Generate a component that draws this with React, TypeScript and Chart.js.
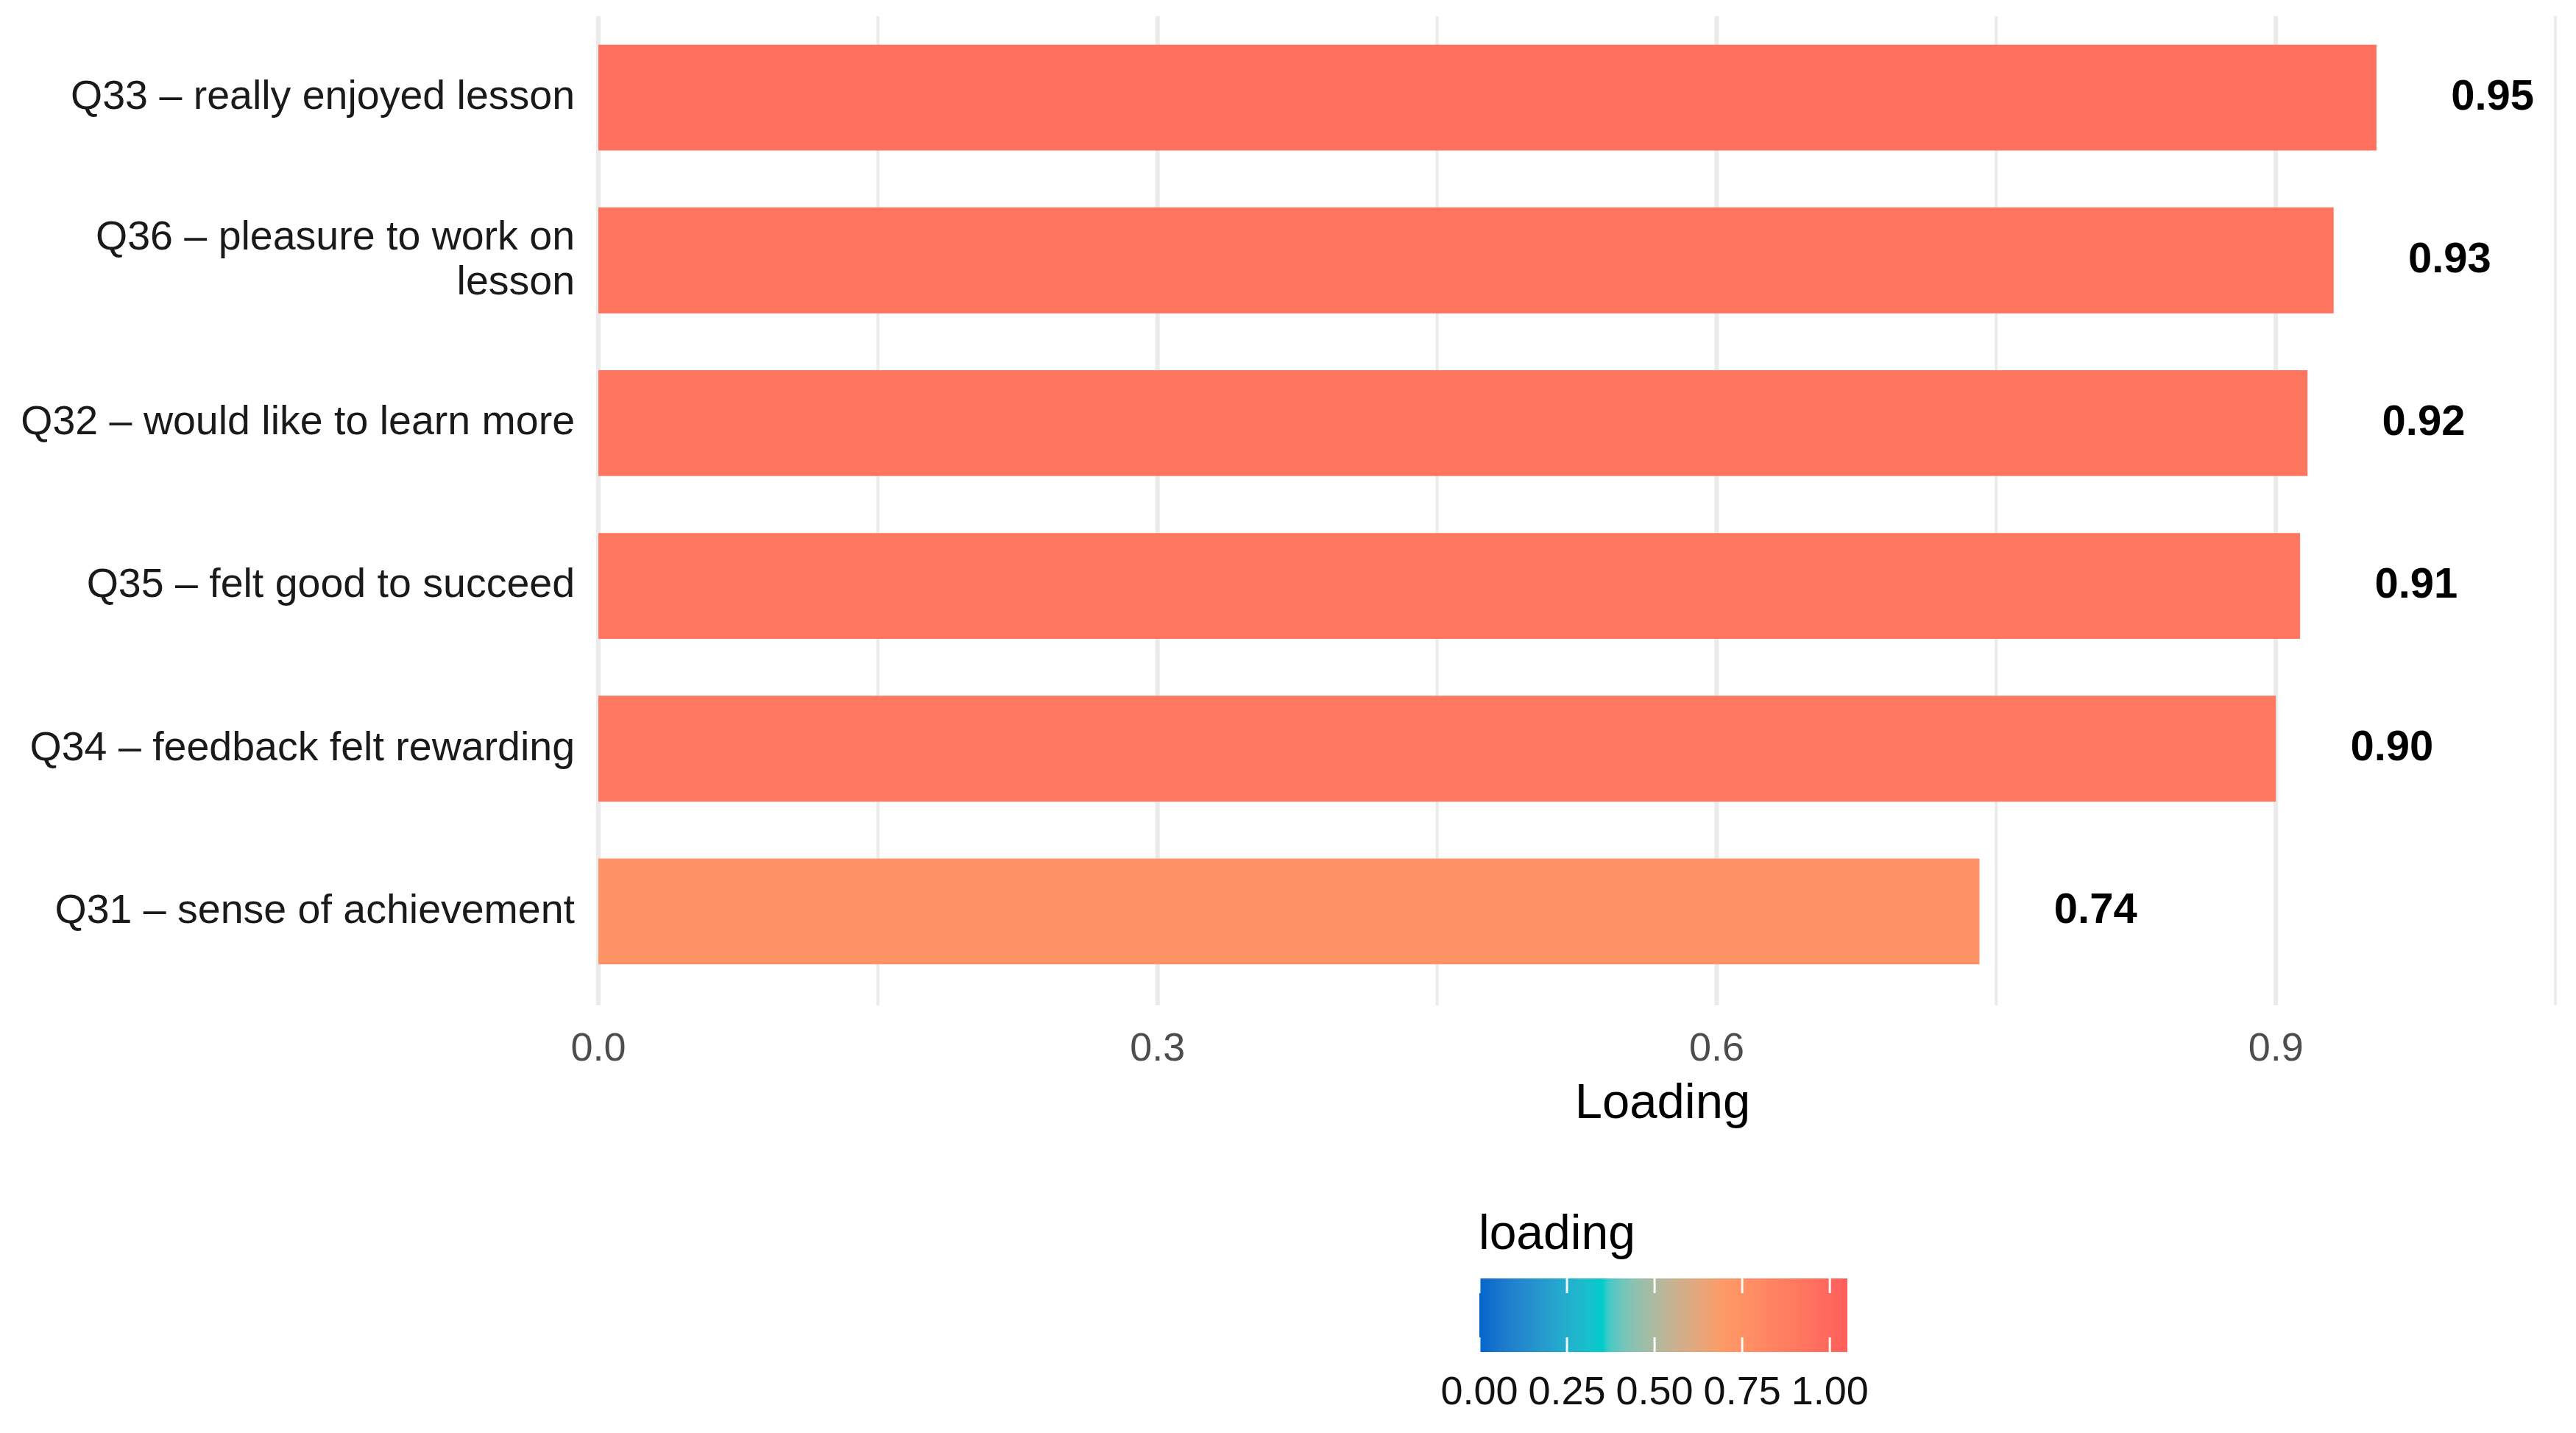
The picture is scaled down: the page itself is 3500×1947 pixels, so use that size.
import React, { useEffect, useRef } from "react";
import { Chart, registerables } from "chart.js";

Chart.register(...registerables);

// ---------- data ----------
const categories: (string | string[])[] = [
  "Q33 – really enjoyed lesson",
  ["Q36 – pleasure to work on", "lesson"],
  "Q32 – would like to learn more",
  "Q35 – felt good to succeed",
  "Q34 – feedback felt rewarding",
  "Q31 – sense of achievement",
];
const loadings = [0.954, 0.931, 0.917, 0.913, 0.9, 0.741];
const xTicks = [0, 0.3, 0.6, 0.9];
const xMinorTicks = [0.15, 0.45, 0.75, 1.05];
const legendTicks = [0, 0.25, 0.5, 0.75, 1.0];
const gradientColors = ["#0066CC", "#00CCCC", "#FF9966", "#FF5E5B"];
const gradientLimits = [0, 1.05];

const FONT = "'Liberation Sans', Arial, Helvetica, sans-serif";

// ---------- colour helpers (Lab interpolation, like ggplot) ----------
function hexToRgb(h: string) {
  const n = parseInt(h.slice(1), 16);
  return [(n >> 16) & 255, (n >> 8) & 255, n & 255];
}
function srgbToLin(c: number) {
  c /= 255;
  return c <= 0.04045 ? c / 12.92 : Math.pow((c + 0.055) / 1.055, 2.4);
}
function linToSrgb(c: number) {
  const v = c <= 0.0031308 ? 12.92 * c : 1.055 * Math.pow(c, 1 / 2.4) - 0.055;
  return Math.max(0, Math.min(255, Math.round(v * 255)));
}
const WX = 0.95047, WY = 1.0, WZ = 1.08883;
function fLab(t: number) {
  return t > 216 / 24389 ? Math.cbrt(t) : (24389 / 27 * t + 16) / 116;
}
function fInv(t: number) {
  return t * t * t > 216 / 24389 ? t * t * t : (116 * t - 16) / (24389 / 27);
}
function rgbToLab(rgb: number[]) {
  const [r, g, b] = rgb.map(srgbToLin);
  const x = (0.4124 * r + 0.3576 * g + 0.1805 * b) / WX;
  const y = (0.2126 * r + 0.7152 * g + 0.0722 * b) / WY;
  const z = (0.0193 * r + 0.1192 * g + 0.9505 * b) / WZ;
  const fx = fLab(x), fy = fLab(y), fz = fLab(z);
  return [116 * fy - 16, 500 * (fx - fy), 200 * (fy - fz)];
}
function labToRgb(lab: number[]) {
  const fy = (lab[0] + 16) / 116;
  const fx = fy + lab[1] / 500;
  const fz = fy - lab[2] / 200;
  const x = fInv(fx) * WX, y = fInv(fy) * WY, z = fInv(fz) * WZ;
  const r = 3.2406 * x - 1.5372 * y - 0.4986 * z;
  const g = -0.9689 * x + 1.8758 * y + 0.0415 * z;
  const b = 0.0557 * x - 0.204 * y + 1.057 * z;
  return [linToSrgb(r), linToSrgb(g), linToSrgb(b)];
}
const gradientLab = gradientColors.map((c) => rgbToLab(hexToRgb(c)));

function colorFor(v: number) {
  const [lo, hi] = gradientLimits;
  let t = (v - lo) / (hi - lo);
  t = Math.max(0, Math.min(1, t));
  const seg = gradientLab.length - 1;
  const i = Math.min(seg - 1, Math.floor(t * seg));
  const f = t * seg - i;
  const a = gradientLab[i];
  const b = gradientLab[i + 1];
  const c = labToRgb(a.map((x, k) => x + (b[k] - x) * f));
  return `rgb(${c[0]},${c[1]},${c[2]})`;
}

const gridPlugin = {
  id: "customGrid",
  beforeDatasetsDraw(chart: any) {
    const { ctx, chartArea } = chart;
    const xs = chart.scales.x;
    ctx.save();
    ctx.strokeStyle = "#EBEBEB";
    const draw = (vals: number[], w: number) => {
      ctx.lineWidth = w;
      vals.forEach((v) => {
        const x = xs.getPixelForValue(v);
        ctx.beginPath();
        ctx.moveTo(x, chartArea.top);
        ctx.lineTo(x, chartArea.bottom + 17);
        ctx.stroke();
      });
    };
    draw(xMinorTicks, 4);
    draw(xTicks, 6);
    ctx.restore();
  },
};

const valueLabelPlugin = {
  id: "valueLabels",
  afterDatasetsDraw(chart: any) {
    const { ctx } = chart;
    const xs = chart.scales.x;
    const meta = chart.getDatasetMeta(0);
    ctx.save();
    ctx.font = `bold 58px ${FONT}`;
    ctx.fillStyle = "#000000";
    ctx.textAlign = "left";
    ctx.textBaseline = "middle";
    loadings.forEach((v, i) => {
      const el = meta.data[i];
      ctx.fillText(v.toFixed(2), xs.getPixelForValue(v + 0.04), el.y);
    });
    ctx.restore();
  },
};

const colorbarPlugin = {
  id: "colorbarLegend",
  afterDraw(chart: any) {
    const { ctx } = chart;
    const barLeft = 2010;
    const barRight = 2510;
    const barTop = 1737;
    const barBottom = 1837;
    const [lo, hi] = gradientLimits;
    const px = (v: number) => barLeft + ((v - lo) / (hi - lo)) * (barRight - barLeft);
    ctx.save();
    // title
    ctx.font = `66px ${FONT}`;
    ctx.fillStyle = "#000000";
    ctx.textAlign = "left";
    ctx.textBaseline = "alphabetic";
    ctx.fillText("loading", 2009, 1697);
    // gradient
    const g = ctx.createLinearGradient(barLeft, 0, barRight, 0);
    for (let k = 0; k <= 60; k++) {
      const v = lo + ((hi - lo) * k) / 60;
      g.addColorStop(k / 60, colorFor(v));
    }
    ctx.fillStyle = g;
    ctx.fillRect(barLeft, barTop, barRight - barLeft, barBottom - barTop);
    // ticks
    ctx.strokeStyle = "rgba(255,255,255,0.95)";
    ctx.lineWidth = 3;
    legendTicks.forEach((v) => {
      const x = px(v);
      ctx.beginPath();
      ctx.moveTo(x, barTop);
      ctx.lineTo(x, barTop + 20);
      ctx.moveTo(x, barBottom - 20);
      ctx.lineTo(x, barBottom);
      ctx.stroke();
    });
    // labels
    ctx.font = `54px ${FONT}`;
    ctx.fillStyle = "#111111";
    ctx.textAlign = "center";
    ctx.textBaseline = "middle";
    legendTicks.forEach((v) => {
      ctx.fillText(v.toFixed(2), px(v), 1893);
    });
    ctx.restore();
  },
};

export default function App() {
  const ref = useRef<HTMLCanvasElement | null>(null);

  useEffect(() => {
    document.body.style.margin = "0";
    document.body.style.overflow = "hidden";
    if (!ref.current) return;
    Chart.defaults.font.family = FONT;
    const chart = new Chart(ref.current, {
      type: "bar",
      data: {
        labels: categories as any,
        datasets: [
          {
            data: loadings,
            backgroundColor: loadings.map(colorFor),
            borderWidth: 0,
            barPercentage: 0.65,
            categoryPercentage: 1,
          },
        ],
      },
      options: {
        indexAxis: "y",
        animation: false,
        responsive: false,
        devicePixelRatio: 1,
        layout: { padding: { top: 22, right: 15, left: 0, bottom: 0 } },
        plugins: {
          legend: { display: false },
          tooltip: { enabled: false },
        },
        scales: {
          x: {
            type: "linear",
            min: 0,
            max: 1.142,
            grid: { display: false, drawTicks: false },
            border: { display: false },
            afterBuildTicks: (s: any) => {
              s.ticks = xTicks.map((v) => ({ value: v }));
            },
            afterFit: (s: any) => {
              s.height = 598;
              s.paddingLeft = 0;
              s.paddingRight = 0;
            },
            ticks: {
              padding: 45,
              color: "#4D4D4D",
              font: { size: 54, family: FONT },
              callback: (v: any) => Number(v).toFixed(1),
            },
            title: {
              display: true,
              text: "Loading",
              color: "#000000",
              font: { size: 67, family: FONT },
              padding: { top: 0, bottom: 406 },
            },
          },
          y: {
            type: "category",
            grid: { display: false, drawTicks: false },
            border: { display: false },
            afterFit: (s: any) => {
              s.width = 813;
              s.paddingTop = 0;
              s.paddingBottom = 0;
            },
            ticks: {
              padding: 32,
              color: "#1A1A1A",
              font: { size: 55.5, family: FONT, lineHeight: 1.1 },
            },
          },
        },
      },
      plugins: [gridPlugin, valueLabelPlugin, colorbarPlugin],
    });
    return () => chart.destroy();
  }, []);

  return (
    <div style={{ width: 3500, height: 1947, overflow: "hidden", position: "relative", background: "#ffffff" }}>
      <canvas ref={ref} width={3720} height={1947} style={{ display: "block", width: 3720, height: 1947 }} />
    </div>
  );
}
